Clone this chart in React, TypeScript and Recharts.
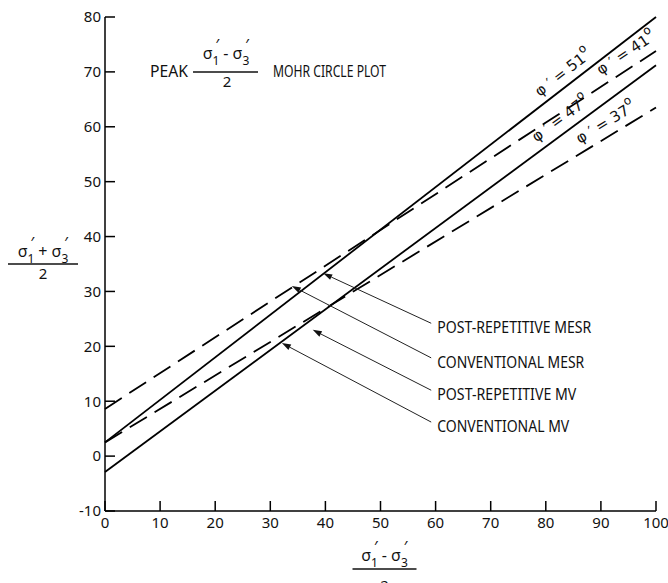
import { LineChart, Line, XAxis, YAxis, ReferenceLine, ReferenceDot } from "recharts";

const FONT = "'Noto Sans', sans-serif";

// end points of the four strength envelopes
const xValues = [0, 100];
const phi51 = [2.5, 80];
const phi41 = [8.6, 73.8];
const phi47 = [-2.9, 71.2];
const phi37 = [2.5, 63.5];

const xTicks = [0, 10, 20, 30, 40, 50, 60, 70, 80, 90, 100];
const yTicks = [-10, 0, 10, 20, 30, 40, 50, 60, 70, 80];

const phiNames = ["51", "41", "47", "37"];
const phiLabelX = [83.2, 94.6, 82.7, 90.9];
const phiLabelY = [69.8, 73.4, 61.4, 60.7];
const phiAngles = [-37.7, -33.2, -36.4, -31.1];

const calloutNames = ["POST-REPETITIVE MESR", "CONVENTIONAL MESR", "POST-REPETITIVE MV", "CONVENTIONAL MV"];
const calloutWidths = [154, 147, 139, 132];
const calloutTextY = [23.5, 17.1, 11.3, 5.5];
const leaderStart = [
  { x: 59.2, y: 24.2 },
  { x: 59.2, y: 17.9 },
  { x: 59.2, y: 12.0 },
  { x: 59.2, y: 6.2 },
];
const leaderEnd = [
  { x: 39.6, y: 33.3 },
  { x: 33.9, y: 31.0 },
  { x: 37.7, y: 23.0 },
  { x: 32.1, y: 20.6 },
];

const data = xValues.map((x, i) => ({
  x,
  phi51: phi51[i],
  phi41: phi41[i],
  phi47: phi47[i],
  phi37: phi37[i],
}));

const sigmaPair = (op: string) => (
  <>
    σ<tspan fontSize={12} dy={6} fill="#111">1</tspan>
    <tspan dx={-4} dy={-14} fill="#111">′</tspan>
    <tspan dy={8} fill="#111">{` ${op} `}</tspan>σ<tspan fontSize={12} dy={6} fill="#111">3</tspan>
    <tspan dx={-4} dy={-14} fill="#111">′</tspan>
  </>
);

const Arrow = (props: any) => {
  const { x1, y1, x2, y2 } = props;
  const ang = Math.atan2(y2 - y1, x2 - x1);
  const len = 9;
  const hw = 3;
  const bx = x2 - len * Math.cos(ang);
  const by = y2 - len * Math.sin(ang);
  const px = -Math.sin(ang) * hw;
  const py = Math.cos(ang) * hw;
  return (
    <g>
      <line x1={x1} y1={y1} x2={bx} y2={by} stroke="#222" strokeWidth={1} />
      <polygon points={`${x2},${y2} ${bx + px},${by + py} ${bx - px},${by - py}`} fill="#111" />
    </g>
  );
};

const Title = (props: any) => {
  const { cx, cy } = props;
  return (
    <g fontFamily={FONT} fill="#111">
      <text x={cx} y={cy + 5} fontSize={16} textLength={38} lengthAdjust="spacingAndGlyphs">PEAK</text>
      <text x={cx + 76} y={cy - 13} fontSize={16} textAnchor="middle">{sigmaPair("-")}</text>
      <line x1={cx + 43} x2={cx + 108} y1={cy} y2={cy} stroke="#111" strokeWidth={1.5} />
      <text x={cx + 77} y={cy + 15} fontSize={15} textAnchor="middle">2</text>
      <text x={cx + 123} y={cy + 5} fontSize={16} textLength={113} lengthAdjust="spacingAndGlyphs">
        MOHR CIRCLE PLOT
      </text>
    </g>
  );
};

const YLabel = (props: any) => {
  const { viewBox } = props;
  const cx = viewBox.x - 22;
  const mid = viewBox.y + viewBox.height / 2;
  return (
    <g fontFamily={FONT} fill="#111">
      <text x={cx} y={mid - 7} fontSize={16} textAnchor="middle">{sigmaPair("+")}</text>
      <line x1={cx - 35} x2={cx + 35} y1={mid} y2={mid} stroke="#111" strokeWidth={1.5} />
      <text x={cx} y={mid + 15} fontSize={15} textAnchor="middle">2</text>
    </g>
  );
};

const XLabel = (props: any) => {
  const { viewBox } = props;
  const cx = viewBox.x + viewBox.width / 2 + 4;
  const base = viewBox.y;
  return (
    <g fontFamily={FONT} fill="#111">
      <text x={cx} y={base + 50} fontSize={16} textAnchor="middle">{sigmaPair("-")}</text>
      <line x1={cx - 32} x2={cx + 32} y1={base + 58} y2={base + 58} stroke="#111" strokeWidth={1.5} />
      <text x={cx} y={base + 80} fontSize={15} textAnchor="middle">2</text>
    </g>
  );
};

export default function App() {
  const axisStyle = { stroke: "#000", strokeWidth: 1.5 };
  const tickStyle = { fill: "#111", fontSize: 15, fontFamily: FONT };
  return (
    <div style={{ position: "absolute", left: 0, top: 0, width: 668, height: 583, background: "#fff" }}>
      <LineChart width={668} height={583} data={data} margin={{ top: 17, right: 12, bottom: 42, left: 65 }}>
        <XAxis
          dataKey="x"
          type="number"
          domain={[0, 100]}
          ticks={xTicks}
          interval={0}
          height={30}
          tickSize={-10}
          tickMargin={16}
          axisLine={axisStyle}
          tickLine={axisStyle}
          tick={tickStyle}
          label={{ content: XLabel }}
        />
        <XAxis
          xAxisId="top"
          orientation="top"
          dataKey="x"
          type="number"
          domain={[0, 100]}
          ticks={xTicks}
          interval={0}
          height={0}
          tickSize={-8}
          axisLine={axisStyle}
          tickLine={axisStyle}
          tick={false}
        />
        <YAxis
          type="number"
          domain={[-10, 80]}
          ticks={yTicks}
          interval={0}
          width={40}
          tickSize={-10}
          tickMargin={14}
          axisLine={axisStyle}
          tickLine={axisStyle}
          tick={tickStyle}
          label={{ content: YLabel }}
        />
        <YAxis
          yAxisId="right"
          orientation="right"
          type="number"
          domain={[-10, 80]}
          ticks={yTicks}
          interval={0}
          width={0}
          tickSize={-10}
          axisLine={axisStyle}
          tickLine={axisStyle}
          tick={false}
        />
        <Line type="linear" dataKey="phi51" stroke="#000" strokeWidth={1.8} dot={false} isAnimationActive={false} />
        <Line type="linear" dataKey="phi41" stroke="#000" strokeWidth={1.8} strokeDasharray="20 9" dot={false} isAnimationActive={false} />
        <Line type="linear" dataKey="phi47" stroke="#000" strokeWidth={1.8} dot={false} isAnimationActive={false} />
        <Line type="linear" dataKey="phi37" stroke="#000" strokeWidth={1.8} strokeDasharray="20 9" dot={false} isAnimationActive={false} />

        {leaderStart.map((s, i) => (
          <ReferenceLine
            key={`leader-${i}`}
            segment={[s, leaderEnd[i]]}
            ifOverflow="visible"
            shape={Arrow}
          />
        ))}

        {calloutNames.map((name, i) => (
          <ReferenceDot
            key={`callout-${i}`}
            x={60.3}
            y={calloutTextY[i]}
            r={0}
            ifOverflow="visible"
            shape={(p: any) => (
              <text
                x={p.cx}
                y={p.cy + 6}
                fontFamily={FONT}
                fontSize={16}
                fill="#111"
                textLength={calloutWidths[i]}
                lengthAdjust="spacingAndGlyphs"
              >
                {name}
              </text>
            )}
          />
        ))}

        {phiNames.map((name, i) => (
          <ReferenceDot
            key={`phi-${i}`}
            x={phiLabelX[i]}
            y={phiLabelY[i]}
            r={0}
            ifOverflow="visible"
            shape={(p: any) => (
              <text
                x={p.cx}
                y={p.cy}
                fontFamily="'DejaVu Sans', sans-serif"
                fontSize={15}
                fill="#111"
                textAnchor="middle"
                dominantBaseline="middle"
                transform={`rotate(${phiAngles[i]} ${p.cx} ${p.cy})`}
              >
                φ ′ = {name}
                <tspan fontSize={12} dy={-8}>o</tspan>
              </text>
            )}
          />
        ))}

        <ReferenceDot x={8.17} y={70} r={0} ifOverflow="visible" shape={Title} />
      </LineChart>
    </div>
  );
}
